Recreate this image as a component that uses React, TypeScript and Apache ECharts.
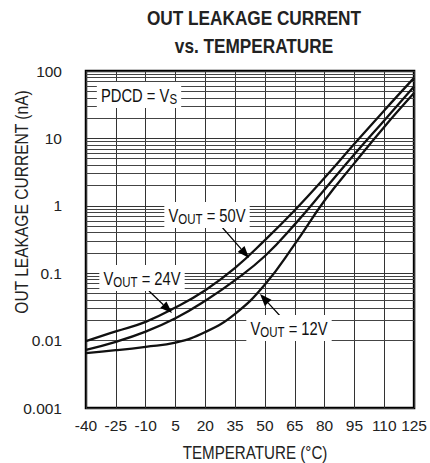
import React, { useEffect, useRef } from "react";
import * as echarts from "echarts";

const temps = ["-40", "-25", "-10", "5", "20", "35", "50", "65", "80", "95", "110", "125"];
const vout50 = [0.0098, 0.0137, 0.019, 0.031, 0.056, 0.12, 0.31, 0.86, 2.6, 8.3, 26, 79];
const vout24 = [0.0073, 0.0096, 0.0136, 0.0214, 0.039, 0.079, 0.18, 0.53, 1.75, 5.8, 18.5, 59];
const vout12 = [0.0065, 0.0072, 0.0081, 0.0093, 0.0134, 0.025, 0.068, 0.27, 1.2, 4.3, 14.8, 47];
const yTickLabels = ["0.001", "0.01", "0.1", "1", "10", "100"];
const decades = [0.001, 0.01, 0.1, 1, 10];
const minorMultipliers = [2, 3, 4, 5, 6, 7, 8, 9];

const SANS = "'Liberation Sans', Arial, Helvetica, sans-serif";
const NARROW_SCALE = 0.82;

function arrow(x1: number, y1: number, x2: number, y2: number) {
  const dx = x2 - x1, dy = y2 - y1, L = Math.hypot(dx, dy);
  const ux = dx / L, uy = dy / L;
  const hl = 12, hw = 4.5;
  const bx = x2 - ux * hl, by = y2 - uy * hl;
  return [
    { type: "line", z: 100, shape: { x1, y1, x2: bx, y2: by }, style: { stroke: "#000", lineWidth: 1.2 } },
    {
      type: "polygon", z: 100,
      shape: { points: [[x2, y2], [bx - uy * hw, by + ux * hw], [bx + uy * hw, by - ux * hw]] },
      style: { fill: "#000" },
    },
  ];
}

function narrowText(x: number, y: number, text: string, fontSize: number, extra: any = {}, rotation = 0) {
  return {
    type: "text", z: 101, x, y, rotation, scaleX: NARROW_SCALE,
    style: {
      text, align: "center", verticalAlign: "middle",
      fontSize, fontFamily: SANS, fill: "#222", ...extra,
    },
  };
}

function label(x: number, y: number, main: string, sub: string, rest: string) {
  return {
    type: "text", z: 101, x, y, scaleX: NARROW_SCALE,
    style: {
      text: `{m|${main}}{s|${sub}}{m|${rest}}`,
      align: "center", verticalAlign: "middle",
      backgroundColor: "#fff", padding: [2, 5, 2, 5],
      rich: {
        m: { fontSize: 18, fontFamily: SANS, fill: "#111", lineHeight: 22 },
        s: { fontSize: 14, fontFamily: SANS, fill: "#111", lineHeight: 14, verticalAlign: "bottom" },
      },
    },
  };
}

export default function App() {
  const ref = useRef<HTMLDivElement>(null);
  useEffect(() => {
    if (!ref.current) return;
    const chart = echarts.init(ref.current, null, { renderer: "svg" });
    const minorLines = decades.flatMap((d) => minorMultipliers.map((k) => ({ yAxis: +(k * d).toPrecision(3) })));
    const lineSeries = (name: string, data: number[], extra: any = {}) => ({
      type: "line", name, data, smooth: 0.45, symbol: "none",
      lineStyle: { color: "#111", width: 2.3 }, z: 5, ...extra,
    });
    chart.setOption({
      animation: false,
      backgroundColor: "#fff",
      grid: { left: 86, top: 71, right: 7, bottom: 55, show: true, borderColor: "#000", borderWidth: 2.5, backgroundColor: "transparent" },
      xAxis: {
        type: "category", data: temps, boundaryGap: false,
        axisLine: { show: false }, axisTick: { show: false },
        axisLabel: { fontSize: 15.5, fontFamily: SANS, color: "#222", margin: 9, interval: 0 },
        splitLine: { show: true, lineStyle: { color: "#333", width: 1 } },
      },
      yAxis: {
        type: "log", logBase: 10, min: 0.001, max: 100, splitNumber: 5,
        axisLine: { show: false }, axisTick: { show: false },
        axisLabel: {
          fontSize: 15.5, fontFamily: SANS, color: "#222", margin: 24,
          formatter: (v: number) => yTickLabels[Math.round(Math.log10(v)) + 3] ?? "",
        },
        splitLine: { show: true, lineStyle: { color: "#333", width: 1 } },
      },
      series: [
        lineSeries("VOUT = 50V", vout50, {
          markLine: {
            silent: true, symbol: ["none", "none"], label: { show: false }, z: 1,
            lineStyle: { color: "#444", width: 1, type: "solid" },
            data: minorLines,
          },
        }),
        lineSeries("VOUT = 24V", vout24),
        lineSeries("VOUT = 12V", vout12),
      ],
      graphic: [
        narrowText(254, 18, "OUT LEAKAGE CURRENT", 21, { fontWeight: "bold" }),
        narrowText(254, 46, "vs. TEMPERATURE", 21, { fontWeight: "bold" }),
        narrowText(21, 202, "OUT LEAKAGE CURRENT (nA)", 19, {}, Math.PI / 2),
        narrowText(255, 453, "TEMPERATURE (°C)", 18.5),
        label(139, 95, "PDCD = V", "S", ""),
        label(207, 215, "V", "OUT", " = 50V"),
        label(142, 278, "V", "OUT", " = 24V"),
        label(289, 328, "V", "OUT", " = 12V"),
        ...arrow(221, 226, 249, 258),
        ...arrow(149, 291, 172, 313),
        ...arrow(282, 318, 260, 294),
      ],
    });
    return () => chart.dispose();
  }, []);
  return <div ref={ref} style={{ position: "fixed", left: 0, top: 0, width: 430, height: 463 }} />;
}
